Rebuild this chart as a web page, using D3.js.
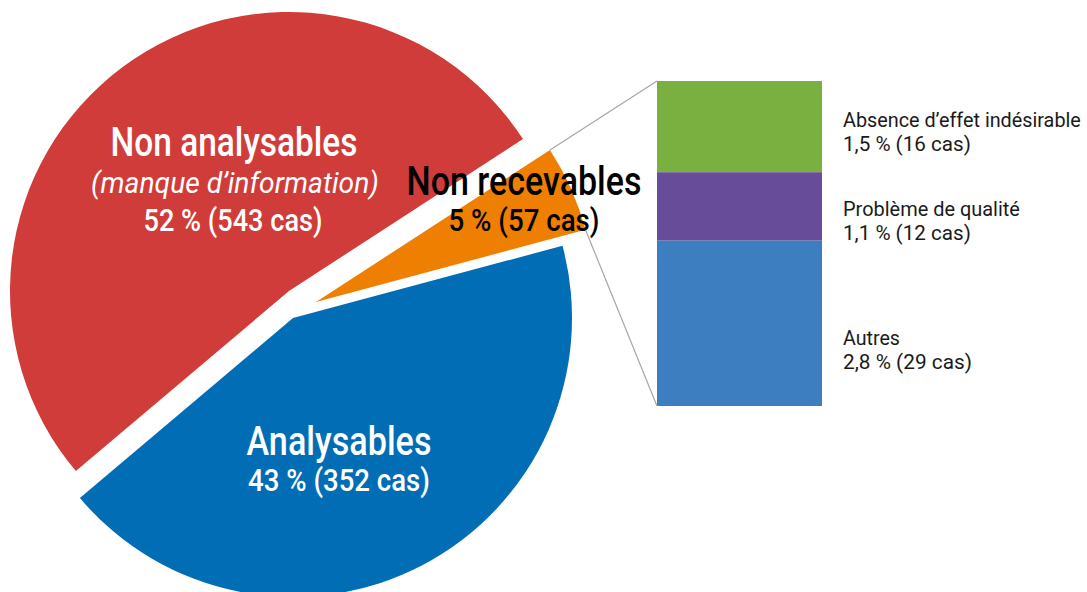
<!DOCTYPE html>
<html>
<head>
<meta charset="utf-8">
<script src="https://cdn.jsdelivr.net/npm/d3@7"></script>
<style>
  html, body { margin: 0; padding: 0; background: #ffffff; }
  svg { display: block; }
  text { font-family: Roboto, "Liberation Sans", Arial, sans-serif; }
</style>
</head>
<body>
<svg id="chart" width="1087" height="592"></svg>
<script>
// Main pie: categories, share in percent and number of cases
const categories = ["Non recevables", "Analysables", "Non analysables"];
const percents = [5, 43, 52];
const cases = [57, 352, 543];
const subtitles = [null, null, "(manque d’information)"];

// Breakdown of "Non recevables" shown as a stacked bar
const subCategories = ["Absence d’effet indésirable", "Problème de qualité", "Autres"];
const subPercents = [1.5, 1.1, 2.8];
const subCases = [16, 12, 29];

// Colours
const sliceColors = ["#ef7f00", "#006db4", "#d03c3a"];
const subColors = ["#7ab03f", "#674c99", "#3c7ebf"];
const textColors = ["#000000", "#ffffff", "#ffffff"];

const fmt = v => String(v).replace(".", ",");

const svg = d3.select("#chart");

// ---- Pie layout ----
const deg = Math.PI / 180;
const radius = 279;
const pieCenter = [297, 303];
// per-slice displacement of the exploded pieces
const explode = [[19, -1], [-4, 15], [-8, -12]];

const pie = d3.pie().sort(null).value(d => d)
  .startAngle(57 * deg).endAngle(57 * deg + 2 * Math.PI);
const arcs = pie(percents);
const arc = d3.arc().innerRadius(0).outerRadius(radius);

const pieG = svg.append("g");
arcs.forEach((a, i) => {
  const cx = pieCenter[0] + explode[i][0];
  const cy = pieCenter[1] + explode[i][1];
  pieG.append("path")
    .attr("transform", `translate(${cx},${cy})`)
    .attr("d", arc(a))
    .attr("fill", sliceColors[i]);
});

// ---- Stacked bar for the breakdown ----
const barX = 657, barW = 165;
const total = d3.sum(subCases);
const y = d3.scaleLinear().domain([0, total]).range([81, 406]);
let acc = 0;
const segs = subCases.map((v, i) => { const s = { i, y0: acc, y1: acc + v }; acc += v; return s; });

svg.append("g").selectAll("rect").data(segs).join("rect")
  .attr("x", barX).attr("width", barW)
  .attr("y", d => y(d.y0))
  .attr("height", d => y(d.y1) - y(d.y0))
  .attr("fill", d => subColors[d.i]);

// ---- Connector lines from the small slice to the bar ----
const small = arcs[0];
const sc = [pieCenter[0] + explode[0][0], pieCenter[1] + explode[0][1]];
const pt = ang => [sc[0] + radius * Math.sin(ang), sc[1] - radius * Math.cos(ang)];
const pTop = pt(small.startAngle), pBot = pt(small.endAngle);
const lines = [[pTop, [barX, y(0)]], [pBot, [barX, y(total)]]];
svg.append("g").selectAll("line").data(lines).join("line")
  .attr("x1", d => d[0][0]).attr("y1", d => d[0][1])
  .attr("x2", d => d[1][0]).attr("y2", d => d[1][1])
  .attr("stroke", "#a6a6a6").attr("stroke-width", 1.2);

// ---- Text helper: a condensed face is emulated by squeezing each line
// horizontally to its set width ----
function label(x, yb, str, size, width, color, opts = {}) {
  const anchor = opts.anchor || "middle";
  const t = svg.append("text")
    .attr("x", 0).attr("y", 0)
    .attr("text-anchor", anchor)
    .attr("font-size", size)
    .attr("font-weight", opts.weight || 400)
    .attr("font-style", opts.italic ? "italic" : "normal")
    .attr("fill", color)
    .text(str);
  const natural = t.node().getComputedTextLength();
  const sx = width / natural;
  t.attr("transform", `translate(${x},${yb}) scale(${sx},1)`);
}
// Non recevables
label(524, 195, categories[0], 40, 235, textColors[0], { weight: 500 });
label(524, 231, `${fmt(percents[0])} % (${cases[0]} cas)`, 32, 151, textColors[0], { weight: 500 });
// Analysables
label(339, 455, categories[1], 40, 185, textColors[1], { weight: 500 });
label(339, 491, `${fmt(percents[1])} % (${cases[1]} cas)`, 32, 182, textColors[1], { weight: 500 });
// Non analysables
label(234, 156, categories[2], 40, 247, textColors[2], { weight: 500 });
label(235, 193, subtitles[2], 30, 288, textColors[2], { italic: true });
label(233, 231, `${fmt(percents[2])} % (${cases[2]} cas)`, 32, 179, textColors[2], { weight: 500 });

// ---- Bar labels ----
const subLabelX = 843;
const subBase = [127, 216, 345];
const subW1 = [238, 177, 57];
const subW2 = [128, 128, 129];
subCategories.forEach((c, i) => {
  label(subLabelX, subBase[i], c, 20.5, subW1[i], "#1a1a1a", { anchor: "start" });
  label(subLabelX, subBase[i] + 24, `${fmt(subPercents[i])} % (${subCases[i]} cas)`, 20.5, subW2[i], "#1a1a1a", { anchor: "start" });
});
</script>
</body>
</html>
